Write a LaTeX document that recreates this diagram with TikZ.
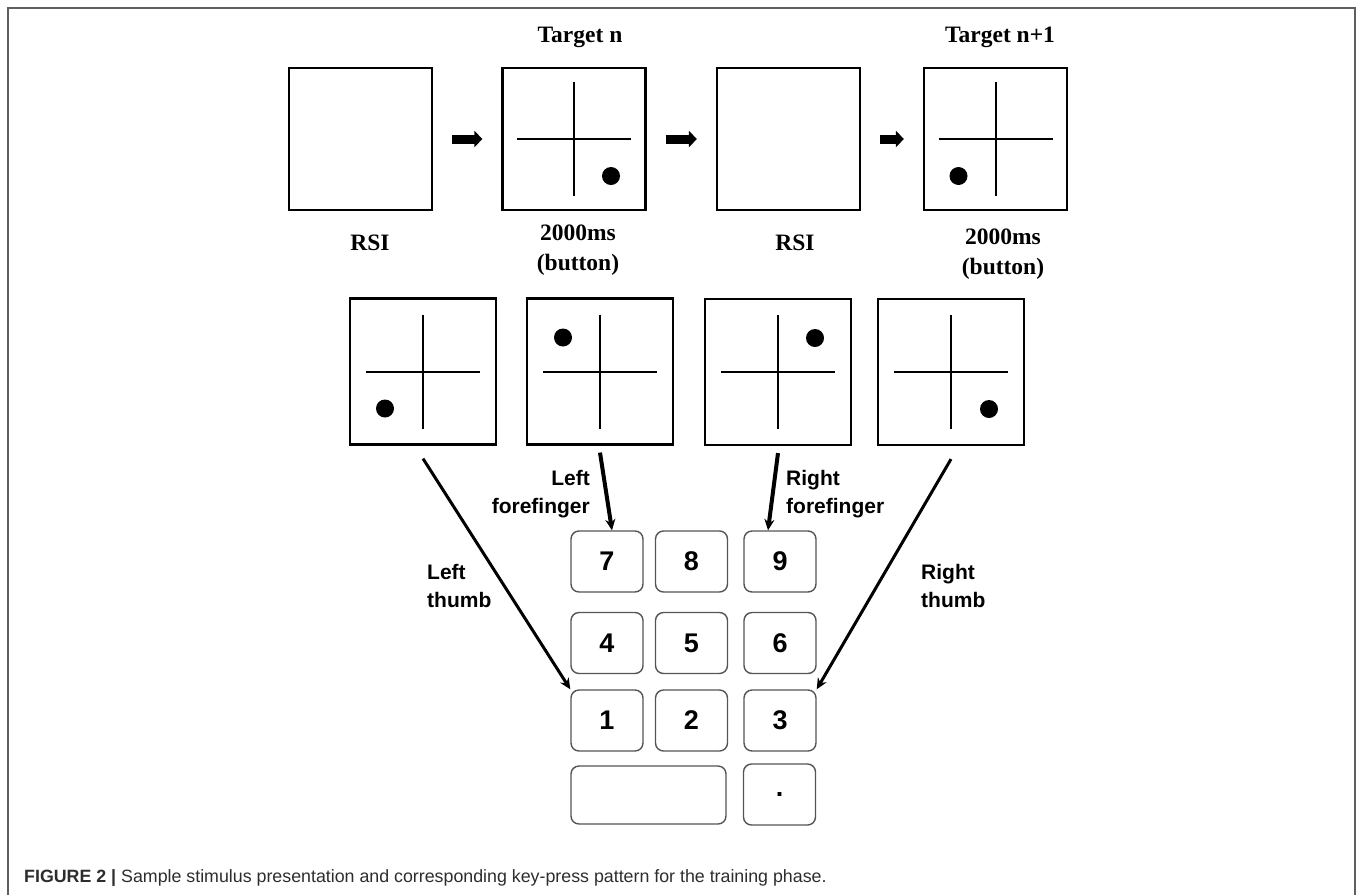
\documentclass[tikz,border=0pt]{standalone}
\usepackage{fontspec}
\setmainfont{Liberation Serif}
\setsansfont{Liberation Sans}
\usetikzlibrary{arrows.meta}
\definecolor{framegray}{RGB}{95,95,95}
\definecolor{keygray}{RGB}{85,85,85}
\definecolor{capgray}{RGB}{45,45,45}

\begin{document}
\begin{tikzpicture}[x=1pt,y=-1pt,
  screen/.style={draw, line width=2.2pt, inner sep=0pt, minimum width=143pt, minimum height=142pt},
  probe/.style={screen, minimum width=146pt, minimum height=146pt},
  key/.style={draw=keygray, line width=1.4pt, rounded corners=8pt, inner sep=0pt, minimum width=72pt, minimum height=61pt, font=\sffamily\bfseries\fontsize{27}{27}\selectfont},
  toplabel/.style={font=\bfseries\fontsize{23.5}{30}\selectfont, align=center, inner sep=0pt},
  fingerlabel/.style={font=\sffamily\bfseries\fontsize{21}{28}\selectfont, inner sep=0pt},
  nextarrow/.style={-{Triangle[length=8pt,width=16pt]}, line width=9pt, shorten <=19pt, shorten >=19pt},
  pressarrow/.style={-{Stealth[length=11pt,width=10pt]}, line width=4pt},
  thumbarrow/.style={pressarrow, line width=3pt}]
\useasboundingbox (0,0) rectangle (1360,895);
\draw[framegray, line width=2pt] (8,895) -- (8,8) -- (1355,8) -- (1355,895);

\node[screen] (t1) at (360.5,139) {};
\node[screen] (t2) at (574,139) {};
\node[screen] (t3) at (788.5,139) {};
\node[screen] (t4) at (995.5,139) {};
\draw[nextarrow] (t1) -- (t2);
\draw[nextarrow] (t2) -- (t3);
\draw[nextarrow] (t3) -- (t4);

\node[toplabel] (tgt1) at (580,37) {Target n};
\node[toplabel] (tgt2) at (1000,37) {Target n+1};
\node[toplabel] (rsi1) at (370,243) {RSI};
\node[toplabel] (dur1) at (578,250) {2000ms\\(button)};
\node[toplabel] (rsi2) at (795,243) {RSI};
\node[toplabel] (dur2) at (1003,254) {2000ms\\(button)};

\node[probe] (b1) at (423,371.5) {};
\node[probe] (b2) at (600,371.5) {};
\node[probe] (b3) at (778,372) {};
\node[probe] (b4) at (951,372) {};

\foreach \b/\dx/\dy in {t2/37/-37, t4/-37/-37, b1/-38/-37, b2/-37/34, b3/37/34, b4/38/-37} {
  \draw[line width=2pt] ([yshift=57pt]\b.center) -- ([yshift=-57pt]\b.center);
  \draw[line width=2pt] ([xshift=-57pt]\b.center) -- ([xshift=57pt]\b.center);
  \fill ([xshift=\dx pt,yshift=\dy pt]\b.center) circle (9pt);
}

\foreach \n/\x/\y in {7/607/561.5, 8/691.5/561.5, 9/780/561.5,
                      4/607/643, 5/691.5/643, 6/780/643,
                      1/607/720.5, 2/691.5/720.5, 3/780/720.5}
  \node[key] (k\n) at (\x,\y) {\n};
\node[key, minimum width=155pt, minimum height=58pt] (k0) at (648.5,795) {};
\node[key] (kdot) at (779.5,794.5) {.};

\draw[thumbarrow] ([yshift=-13pt]b1.south) -- (k1.north west);
\draw[pressarrow] ([yshift=-7pt]b2.south) -- ([xshift=5pt]k7.north);
\draw[pressarrow] ([yshift=-7pt]b3.south) -- ([xshift=-12pt]k9.north);
\draw[thumbarrow] ([yshift=-13pt]b4.south) -- (k3.north east);

\node[fingerlabel, anchor=east, align=right] (lfore) at (590,494) {Left\\forefinger};
\node[fingerlabel, anchor=west, align=left] (rfore) at (786,494) {Right\\forefinger};
\node[fingerlabel, anchor=west, align=left] (lthumb) at (427,586) {Left\\thumb};
\node[fingerlabel, anchor=west, align=left] (rthumb) at (921,586) {Right\\thumb};

\node[anchor=base west, inner sep=0pt, text=capgray, font=\sffamily\fontsize{17.8}{20}\selectfont] (caption) at (24,882)
  {\textbf{FIGURE 2 |} Sample stimulus presentation and corresponding key-press pattern for the training phase.};
\end{tikzpicture}
\end{document}
